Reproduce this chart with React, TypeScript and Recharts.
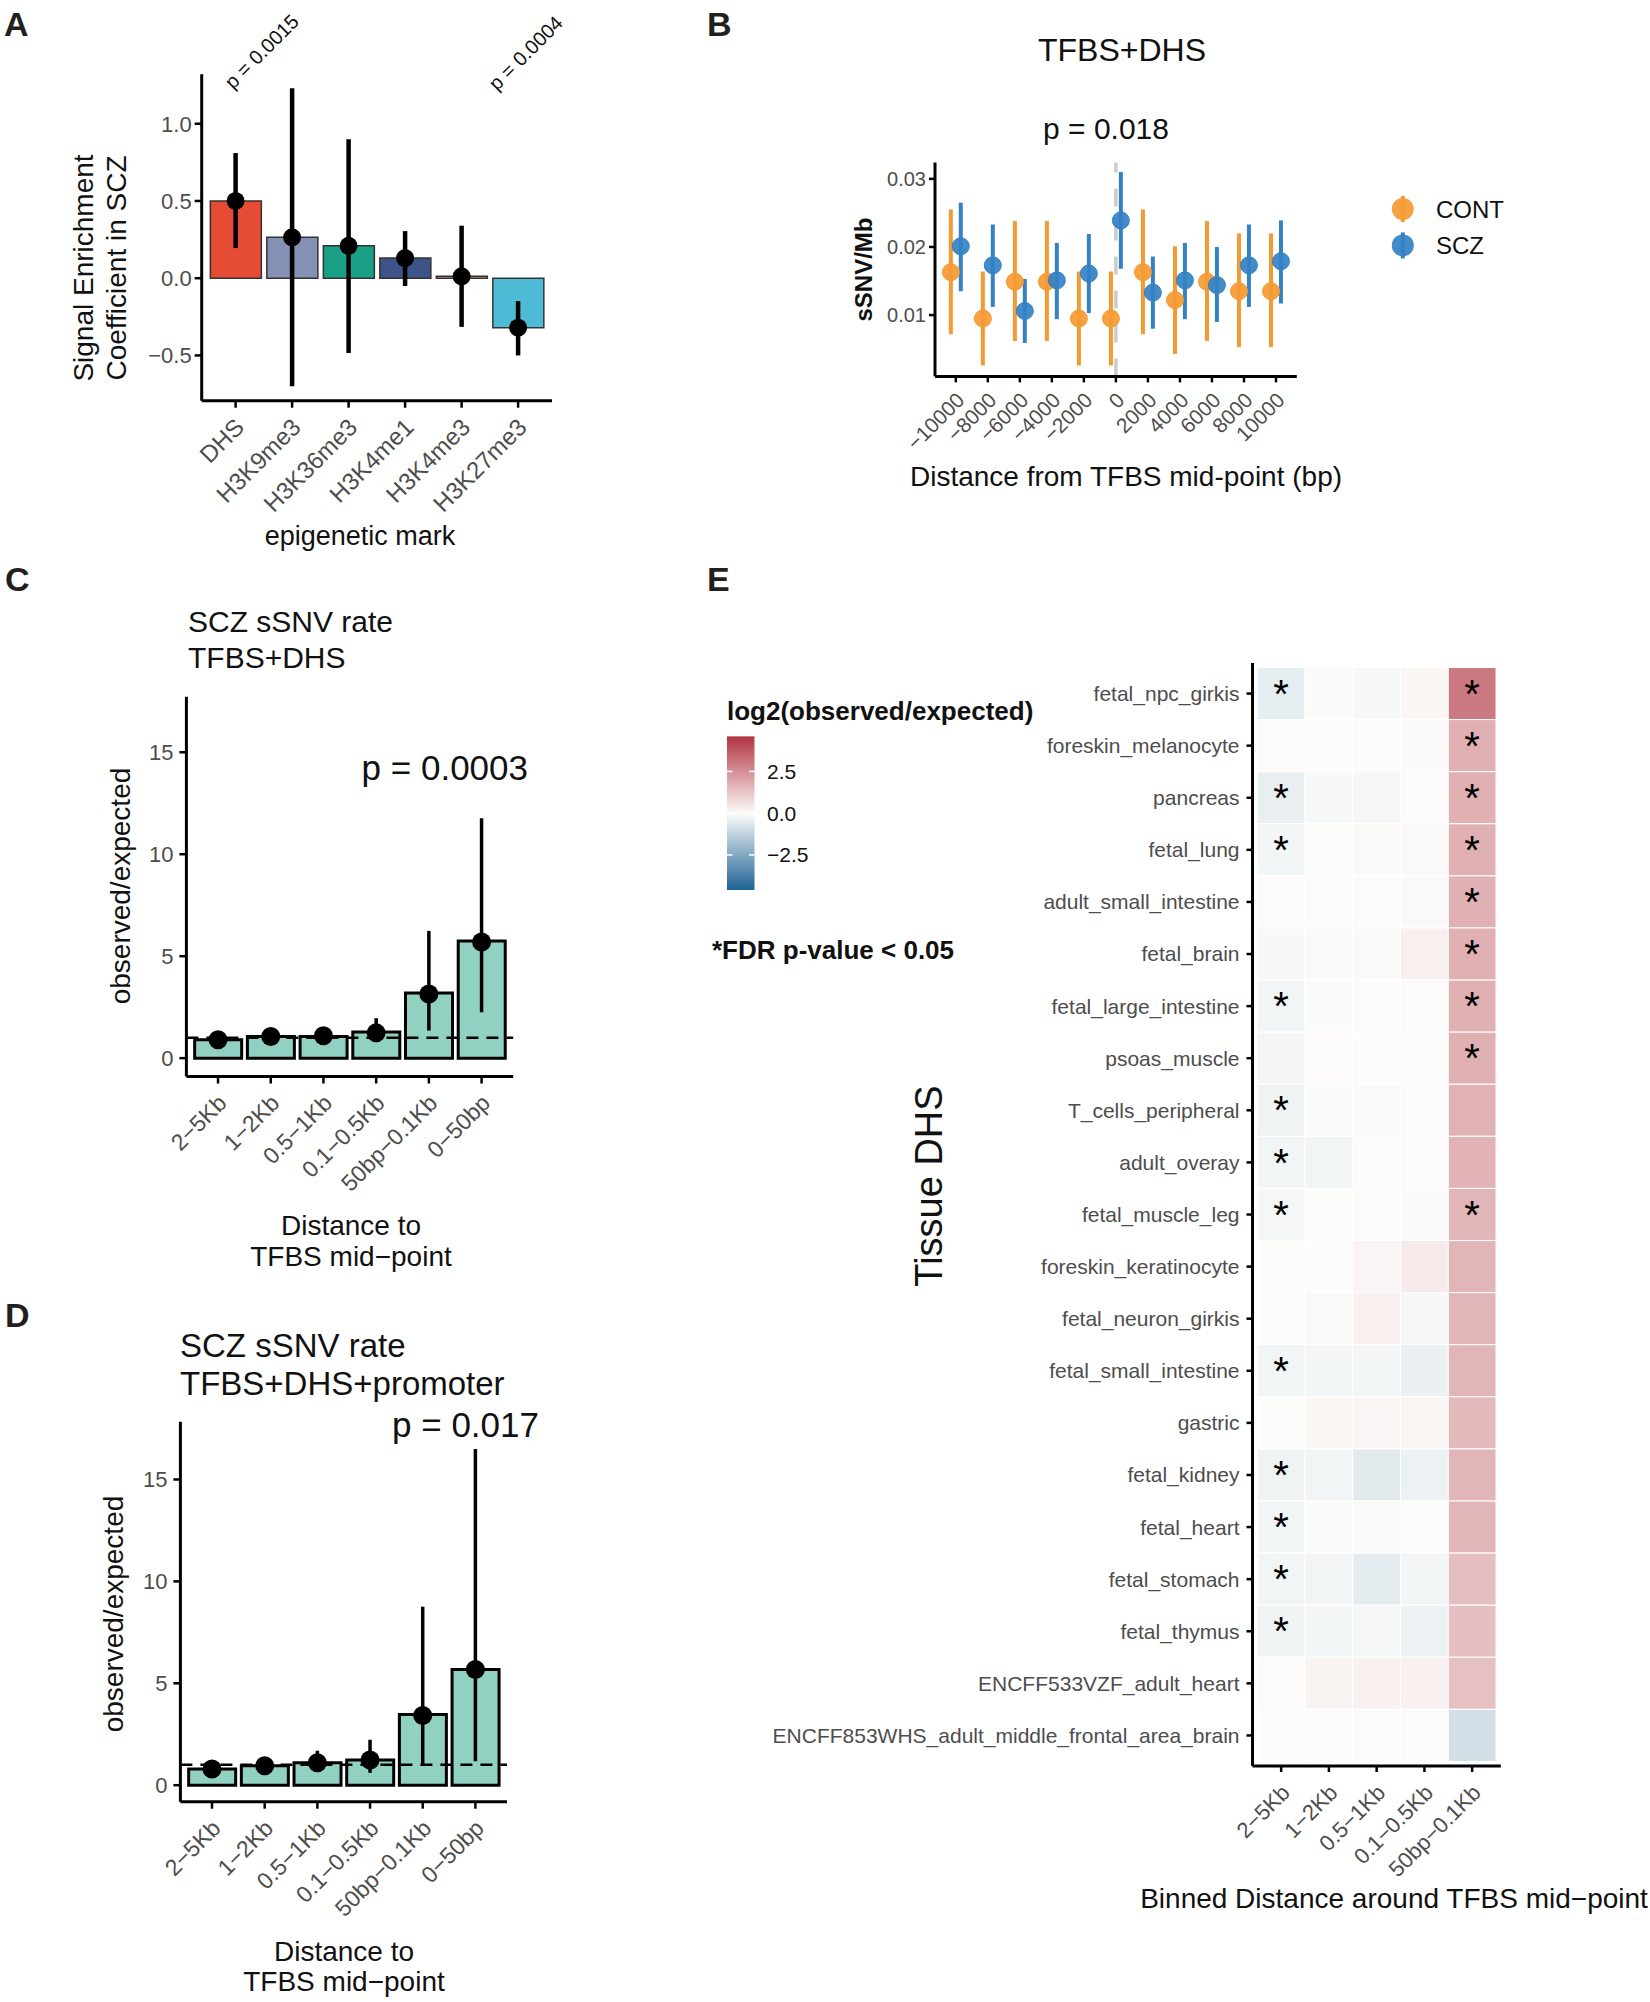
import React from "react";
import {
  Bar,
  BarChart,
  Cell,
  ComposedChart,
  ErrorBar,
  LabelList,
  Line,
  ReferenceLine,
  Scatter,
  ScatterChart,
  XAxis,
  YAxis,
} from "recharts";

const FONT = "'Liberation Sans', Arial, Helvetica, sans-serif";
const GREY = "#4D4D4D";
const INK = "#111111";

// A: signal enrichment coefficient per epigenetic mark
const marks = ["DHS", "H3K9me3", "H3K36me3", "H3K4me1", "H3K4me3", "H3K27me3"];
const markCoef = [0.5, 0.265, 0.21, 0.13, 0.012, -0.32];
const markLow = [0.195, -0.7, -0.485, -0.05, -0.315, -0.5];
const markHigh = [0.81, 1.23, 0.9, 0.305, 0.34, -0.148];
const markColors = ["#E64B35", "#8491B4", "#1BA088", "#3C5488", "#F39B7F", "#4DBBD5"];

// B: sSNV/Mb around TFBS mid-point
const distances = [-10000, -8000, -6000, -4000, -2000, 0, 2000, 4000, 6000, 8000, 10000];
const contRate = [0.0163, 0.0095, 0.0149, 0.0149, 0.0095, 0.0095, 0.0163, 0.0122, 0.0149, 0.0135, 0.0135];
const contLow = [0.0072, 0.0026, 0.0062, 0.0062, 0.0026, 0.0026, 0.0072, 0.0043, 0.0062, 0.0053, 0.0053];
const contHigh = [0.0255, 0.0164, 0.0238, 0.0238, 0.0164, 0.0164, 0.0255, 0.0201, 0.0238, 0.022, 0.022];
const sczRate = [0.0201, 0.0173, 0.0106, 0.0151, 0.0161, 0.0239, 0.0133, 0.0151, 0.0144, 0.0173, 0.0179];
const sczLow = [0.0135, 0.0112, 0.0059, 0.0094, 0.0103, 0.0168, 0.008, 0.0094, 0.009, 0.0112, 0.0117];
const sczHigh = [0.0265, 0.0233, 0.0153, 0.0206, 0.0219, 0.031, 0.0186, 0.0206, 0.02, 0.0233, 0.0239];
const DODGE = 310;

// C / D: observed/expected by distance bin
const bins = ["2\u22125Kb", "1\u22122Kb", "0.5\u22121Kb", "0.1\u22120.5Kb", "50bp\u22120.1Kb", "0\u221250bp"];
const cBar = [0.9, 1.06, 1.06, 1.28, 3.2, 5.74];
const cPoint = [0.9, 1.06, 1.1, 1.24, 3.15, 5.7];
const cLow = [0.82, 0.98, 0.98, 0.79, 1.35, 2.25];
const cHigh = [0.98, 1.14, 1.2, 1.96, 6.24, 11.76];
const dBar = [0.79, 0.95, 1.1, 1.24, 3.47, 5.68];
const dPoint = [0.79, 0.95, 1.1, 1.24, 3.42, 5.68];
const dLow = [0.7, 0.86, 0.72, 0.61, 1.01, 1.17];
const dHigh = [0.88, 1.04, 1.69, 2.23, 8.76, 16.49];

// E: log2(observed/expected) per tissue DHS
const tissues = [
  "fetal_npc_girkis",
  "foreskin_melanocyte",
  "pancreas",
  "fetal_lung",
  "adult_small_intestine",
  "fetal_brain",
  "fetal_large_intestine",
  "psoas_muscle",
  "T_cells_peripheral",
  "adult_overay",
  "fetal_muscle_leg",
  "foreskin_keratinocyte",
  "fetal_neuron_girkis",
  "fetal_small_intestine",
  "gastric",
  "fetal_kidney",
  "fetal_heart",
  "fetal_stomach",
  "fetal_thymus",
  "ENCFF533VZF_adult_heart",
  "ENCFF853WHS_adult_middle_frontal_area_brain",
];
const log2Bin2to5Kb = [-0.45, 0.02, -0.4, -0.18, 0.02, -0.1, -0.2, -0.17, -0.28, -0.2, -0.15, 0.01, 0.01, -0.22, 0.01, -0.28, -0.2, -0.22, -0.25, 0.03, 0.0];
const log2Bin1to2Kb = [-0.05, 0.0, -0.1, 0.0, 0.02, 0.06, -0.04, 0.02, -0.05, -0.2, 0.0, 0.0, 0.08, -0.18, 0.12, -0.2, -0.05, -0.2, -0.18, 0.2, 0.0];
const log2Bin05to1Kb = [-0.1, 0.0, -0.13, 0.07, 0.03, 0.06, -0.03, 0.0, -0.04, -0.02, -0.03, 0.15, 0.25, -0.18, 0.15, -0.55, -0.05, -0.48, -0.16, 0.25, -0.02];
const log2Bin01to05Kb = [0.12, 0.05, 0.02, 0.06, 0.08, 0.28, -0.03, 0.0, -0.03, 0.02, 0.05, 0.4, -0.13, -0.35, 0.14, -0.33, 0.0, -0.18, -0.33, 0.25, -0.02];
const log2Bin50bpTo01Kb = [3.0, 1.75, 1.75, 1.75, 1.72, 1.75, 1.75, 1.75, 1.7, 1.68, 1.6, 1.62, 1.6, 1.6, 1.55, 1.6, 1.6, 1.42, 1.4, 1.38, -0.87];
const fdrBin2to5Kb = [1, 0, 1, 1, 0, 0, 1, 0, 1, 1, 1, 0, 0, 1, 0, 1, 1, 1, 1, 0, 0];
const fdrBin50bpTo01Kb = [1, 1, 1, 1, 1, 1, 1, 1, 0, 0, 1, 0, 0, 0, 0, 0, 0, 0, 0, 0, 0];

const heatCols = [log2Bin2to5Kb, log2Bin1to2Kb, log2Bin05to1Kb, log2Bin01to05Kb, log2Bin50bpTo01Kb];
const noStars = tissues.map(() => 0);
const starCols = [fdrBin2to5Kb, noStars, noStars, noStars, fdrBin50bpTo01Kb];

const heatColor = (v: number) => {
  const t = Math.min(1, Math.abs(v) / 4.6);
  const mid = [252, 252, 250];
  const end = v >= 0 ? [178, 52, 64] : [31, 99, 149];
  const c = mid.map((m, k) => Math.round(m + (end[k] - m) * t));
  return `rgb(${c[0]},${c[1]},${c[2]})`;
};

const minus = (s: string) => s.replace("-", "\u2212");

function RotTick(props: any) {
  const { x, y, payload, size, dx, dy, fmt } = props;
  const tx = x + dx;
  const ty = y + dy;
  const label = fmt ? fmt(payload.value) : payload.value;
  return (
    <text
      x={tx}
      y={ty}
      transform={`rotate(-45 ${tx} ${ty})`}
      textAnchor="end"
      fontSize={size}
      fill={GREY}
      fontFamily={FONT}
    >
      {label}
    </text>
  );
}

const axisLine = { stroke: "#000", strokeWidth: 3 };
const tickLine = { stroke: "#000", strokeWidth: 2.5 };

function PanelA() {
  const data = marks.map((m, i) => ({
    mark: m,
    coef: markCoef[i],
    err: [markCoef[i] - markLow[i], markHigh[i] - markCoef[i]],
  }));
  return (
    <ComposedChart width={600} height={560} data={data} margin={{ top: 74.3, right: 48, bottom: 29.3, left: 0 }}>
      <XAxis
        dataKey="mark"
        type="category"
        height={130}
        interval={0}
        padding={{ left: 5.65, right: 5.65 }}
        axisLine={axisLine}
        tickLine={tickLine}
        tickSize={7}
        tickMargin={2}
        tick={(p: any) => <RotTick {...p} size={24} dx={10} dy={19} />}
      />
      <YAxis
        type="number"
        domain={[-0.793, 1.32]}
        allowDataOverflow
        ticks={[-0.5, 0, 0.5, 1]}
        tickFormatter={(v: number) => minus(v.toFixed(1))}
        width={201.7}
        axisLine={axisLine}
        tickLine={tickLine}
        tickSize={7}
        tickMargin={3}
        tick={{ fontSize: 22, fill: GREY, fontFamily: FONT }}
      />
      <Bar dataKey="coef" barSize={51} stroke="#333" strokeWidth={1.5} isAnimationActive={false}>
        {data.map((d, i) => (
          <Cell key={d.mark} fill={markColors[i]} />
        ))}
      </Bar>
      <Line
        dataKey="coef"
        stroke="none"
        dot={{ r: 9, fill: "#000", stroke: "#000", strokeWidth: 0 }}
        activeDot={false}
        isAnimationActive={false}
      >
        <ErrorBar dataKey="err" width={0} strokeWidth={4.5} stroke="#000" direction="y" />
      </Line>
    </ComposedChart>
  );
}

function dotShape(color: string) {
  return (p: any) => (
    <circle cx={p.cx} cy={p.cy} r={8.5} fill={color} fillOpacity={0.92} stroke={color} strokeWidth={1} />
  );
}

function PanelB() {
  const cont = distances.map((d, i) => ({ x: d - DODGE, y: contRate[i], e: [contRate[i] - contLow[i], contHigh[i] - contRate[i]] }));
  const scz = distances.map((d, i) => ({ x: d + DODGE, y: sczRate[i], e: [sczRate[i] - sczLow[i], sczHigh[i] - sczRate[i]] }));
  return (
    <ScatterChart width={950} height={520} margin={{ top: 162.5, right: 353.2, bottom: 23.6, left: 0 }}>
      <XAxis
        type="number"
        dataKey="x"
        domain={[-11300, 11300]}
        allowDataOverflow
        ticks={distances}
        interval={0}
        height={120}
        axisLine={axisLine}
        tickLine={tickLine}
        tickSize={6}
        tickMargin={2}
        tick={(p: any) => <RotTick {...p} size={21} dx={10} dy={17} fmt={(v: number) => minus(String(v))} />}
      />
      <YAxis
        type="number"
        dataKey="y"
        domain={[0.001, 0.0324]}
        allowDataOverflow
        ticks={[0.01, 0.02, 0.03]}
        tickFormatter={(v: number) => v.toFixed(2)}
        width={235}
        axisLine={axisLine}
        tickLine={tickLine}
        tickSize={6}
        tickMargin={3}
        tick={{ fontSize: 20, fill: GREY, fontFamily: FONT }}
      />
      <ReferenceLine x={0} stroke="#CCCCCC" strokeWidth={3.5} strokeDasharray="18 16" />
      <Scatter data={cont} shape={dotShape("#F59A33")} isAnimationActive={false}>
        <ErrorBar dataKey="e" direction="y" width={0} strokeWidth={4} stroke="#F59A33" />
      </Scatter>
      <Scatter data={scz} shape={dotShape("#3482C4")} isAnimationActive={false}>
        <ErrorBar dataKey="e" direction="y" width={0} strokeWidth={4} stroke="#3482C4" />
      </Scatter>
    </ScatterChart>
  );
}

function RatioPanel(props: any) {
  const { bar, point, low, high, width, height, margin, yWidth, domain } = props;
  const data = bins.map((b, i) => ({
    bin: b,
    bar: bar[i],
    pt: point[i],
    err: [point[i] - low[i], high[i] - point[i]],
  }));
  return (
    <ComposedChart width={width} height={height} data={data} margin={margin}>
      <XAxis
        dataKey="bin"
        type="category"
        height={140}
        interval={0}
        padding={{ left: 5.27, right: 5.27 }}
        axisLine={axisLine}
        tickLine={tickLine}
        tickSize={7}
        tickMargin={2}
        tick={(p: any) => <RotTick {...p} size={23} dx={10} dy={19} />}
      />
      <YAxis
        type="number"
        domain={domain}
        allowDataOverflow
        ticks={[0, 5, 10, 15]}
        width={yWidth}
        axisLine={axisLine}
        tickLine={tickLine}
        tickSize={7}
        tickMargin={6}
        tick={{ fontSize: 22, fill: GREY, fontFamily: FONT }}
      />
      <Bar dataKey="bar" barSize={47} fill="#91D1C2" stroke="#000" strokeWidth={3} isAnimationActive={false} />
      <ReferenceLine y={1} stroke="#000" strokeWidth={2.5} strokeDasharray="12 8" />
      <Line
        dataKey="pt"
        stroke="none"
        dot={{ r: 9.5, fill: "#000", stroke: "#000", strokeWidth: 0 }}
        activeDot={false}
        isAnimationActive={false}
      >
        <ErrorBar dataKey="err" width={0} strokeWidth={3.5} stroke="#000" direction="y" />
      </Line>
    </ComposedChart>
  );
}

function PanelE() {
  const rows = tissues.map((t, i) => {
    const r: any = { tissue: t };
    heatCols.forEach((col, k) => {
      r[`u${k}`] = 1;
      r[`s${k}`] = starCols[k][i] ? "*" : "";
    });
    return r;
  });
  return (
    <BarChart
      width={950}
      height={1442}
      data={rows}
      layout="vertical"
      barCategoryGap={0}
      barGap={0}
      margin={{ top: 103, right: 149.2, bottom: 106, left: 0 }}
    >
      <XAxis
        type="number"
        domain={[-0.1, 5.1]}
        allowDataOverflow
        ticks={[0.5, 1.5, 2.5, 3.5, 4.5]}
        interval={0}
        height={130}
        axisLine={axisLine}
        tickLine={tickLine}
        tickSize={6}
        tickMargin={2}
        tick={(p: any) => <RotTick {...p} size={22} dx={10} dy={20} fmt={(v: number) => bins[Math.floor(v)]} />}
      />
      <YAxis
        type="category"
        dataKey="tissue"
        width={552.5}
        interval={0}
        padding={{ top: 4.5, bottom: 4.5 }}
        axisLine={axisLine}
        tickLine={tickLine}
        tickSize={6}
        tickMargin={7}
        tick={{ fontSize: 21, fill: GREY, fontFamily: FONT }}
      />
      {heatCols.map((col, k) => (
        <Bar key={k} dataKey={`u${k}`} stackId="h" isAnimationActive={false}>
          {col.map((v, i) => (
            <Cell key={tissues[i]} fill={heatColor(v)} stroke="#FFFFFF" strokeWidth={1} />
          ))}
          <LabelList dataKey={`s${k}`} position="center" fontSize={40} fill="#000" fontFamily={FONT} />
        </Bar>
      ))}
    </BarChart>
  );
}

function Overlay() {
  const stops = Array.from({ length: 21 }, (_, k) => ({ off: k / 20, v: 4.6 - (k * 9.2) / 20 }));
  const cbZero = 813.2;
  const cbUnit = 16.7;
  const txt = { fontFamily: FONT, fill: INK };
  return (
    <svg
      width={1650}
      height={2002}
      style={{ position: "absolute", left: 0, top: 0, pointerEvents: "none" }}
    >
      <defs>
        <linearGradient id="cbar" x1="0" y1="0" x2="0" y2="1">
          {stops.map((s) => (
            <stop key={s.off} offset={s.off} stopColor={heatColor(s.v)} />
          ))}
        </linearGradient>
      </defs>
      {/* panel letters */}
      <g fontFamily={FONT} fill="#231F20" fontWeight={700} fontSize={34}>
        <text x={4} y={36}>A</text>
        <text x={707} y={36}>B</text>
        <text x={5} y={591}>C</text>
        <text x={5} y={1327}>D</text>
        <text x={707} y={591}>E</text>
      </g>

      {/* A */}
      <g {...txt} fontSize={28} textAnchor="middle">
        <text x={93} y={268} transform="rotate(-90 93 268)">Signal Enrichment</text>
        <text x={126} y={268} transform="rotate(-90 126 268)">Coefficient in SCZ</text>
        <text x={360} y={545} fontSize={27}>epigenetic mark</text>
      </g>
      <g {...txt} fontSize={20}>
        <text x={233} y={90} transform="rotate(-45 233 90)">p = 0.0015</text>
        <text x={497} y={91.5} transform="rotate(-45 497 91.5)">p = 0.0004</text>
      </g>

      {/* B */}
      <g {...txt} textAnchor="middle">
        <text x={1122} y={61} fontSize={32}>TFBS+DHS</text>
        <text x={1106} y={139} fontSize={30}>p = 0.018</text>
        <text x={1126} y={486} fontSize={28}>Distance from TFBS mid-point (bp)</text>
        <text x={872} y={269.5} fontSize={24} fontWeight={700} transform="rotate(-90 872 269.5)">sSNV/Mb</text>
      </g>
      <g>
        <line x1={1402.8} x2={1402.8} y1={196} y2={222} stroke="#F59A33" strokeWidth={4} />
        <circle cx={1402.8} cy={209} r={11} fill="#F59A33" fillOpacity={0.92} />
        <line x1={1402.8} x2={1402.8} y1={232.4} y2={258.4} stroke="#3482C4" strokeWidth={4} />
        <circle cx={1402.8} cy={245.4} r={11} fill="#3482C4" fillOpacity={0.92} />
        <text x={1436} y={217.5} fontSize={24} {...txt}>CONT</text>
        <text x={1436} y={254} fontSize={24} {...txt}>SCZ</text>
      </g>

      {/* C */}
      <g {...txt} fontSize={30}>
        <text x={188} y={632}>SCZ sSNV rate</text>
        <text x={188} y={668}>TFBS+DHS</text>
      </g>
      <text x={528} y={780} fontSize={35} textAnchor="end" {...txt}>p = 0.0003</text>
      <g {...txt} fontSize={28} textAnchor="middle">
        <text x={130} y={886} transform="rotate(-90 130 886)">observed/expected</text>
        <text x={351} y={1235}>Distance to</text>
        <text x={351} y={1266}>TFBS mid{"\u2212"}point</text>
      </g>

      {/* D */}
      <g {...txt} fontSize={33}>
        <text x={180} y={1357}>SCZ sSNV rate</text>
        <text x={180} y={1395}>TFBS+DHS+promoter</text>
      </g>
      <text x={539} y={1436.5} fontSize={35} textAnchor="end" {...txt}>p = 0.017</text>
      <g {...txt} fontSize={28} textAnchor="middle">
        <text x={123} y={1614} transform="rotate(-90 123 1614)">observed/expected</text>
        <text x={344} y={1961}>Distance to</text>
        <text x={344} y={1991}>TFBS mid{"\u2212"}point</text>
      </g>

      {/* E legend and titles */}
      <text x={727} y={719.5} fontSize={26} fontWeight={700} {...txt}>log2(observed/expected)</text>
      <rect x={727} y={cbZero - 4.6 * cbUnit} width={27.5} height={9.2 * cbUnit} fill="url(#cbar)" />
      {[2.5, 0, -2.5].map((v) => {
        const y = cbZero - v * cbUnit;
        return (
          <g key={v}>
            <line x1={727} x2={732.5} y1={y} y2={y} stroke="#fff" strokeWidth={1.5} />
            <line x1={749} x2={754.5} y1={y} y2={y} stroke="#fff" strokeWidth={1.5} />
            <text x={767} y={y + 7.5} fontSize={21} {...txt}>
              {minus(v.toFixed(1))}
            </text>
          </g>
        );
      })}
      <text x={712} y={959} fontSize={26} fontWeight={700} {...txt}>*FDR p-value &lt; 0.05</text>
      <text x={942} y={1186} fontSize={38} textAnchor="middle" transform="rotate(-90 942 1186)" {...txt}>
        Tissue DHS
      </text>
      <text x={1394} y={1908} fontSize={28} textAnchor="middle" {...txt}>
        Binned Distance around TFBS mid{"\u2212"}point
      </text>
    </svg>
  );
}

export default function App() {
  return (
    <div
      style={{
        position: "absolute",
        left: 0,
        top: 0,
        width: 1650,
        height: 2002,
        background: "#fff",
        fontFamily: FONT,
        overflow: "hidden",
      }}
    >
      <div style={{ position: "absolute", left: 0, top: 0 }}>
        <PanelA />
      </div>
      <div style={{ position: "absolute", left: 700, top: 0 }}>
        <PanelB />
      </div>
      <div style={{ position: "absolute", left: 0, top: 560 }}>
        <RatioPanel
          bar={cBar}
          point={cPoint}
          low={cLow}
          high={cHigh}
          width={560}
          height={720}
          margin={{ top: 136.8, right: 46.8, bottom: 63.5, left: 0 }}
          yWidth={186.4}
          domain={[-0.9, 17.72]}
        />
      </div>
      <div style={{ position: "absolute", left: 0, top: 1280 }}>
        <RatioPanel
          bar={dBar}
          point={dPoint}
          low={dLow}
          high={dHigh}
          width={560}
          height={722}
          margin={{ top: 141.8, right: 53, bottom: 60.3, left: 0 }}
          yWidth={180.4}
          domain={[-0.81, 17.83]}
        />
      </div>
      <div style={{ position: "absolute", left: 700, top: 560 }}>
        <PanelE />
      </div>
      <Overlay />
    </div>
  );
}
